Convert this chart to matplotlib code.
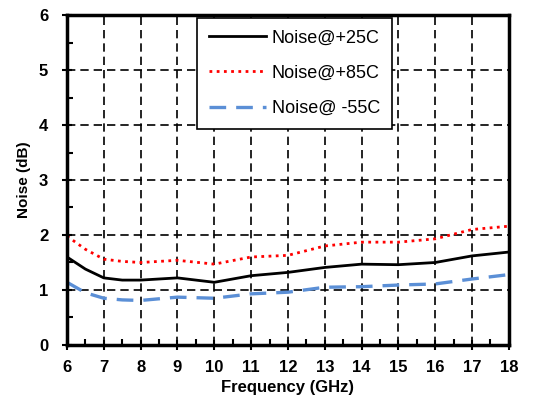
import matplotlib
matplotlib.use("Agg")
import matplotlib.pyplot as plt
from matplotlib.ticker import MultipleLocator

plt.rcParams['font.family'] = ['Liberation Sans', 'DejaVu Sans']

freq = [6, 6.5, 7, 7.5, 8, 9, 10, 11, 12, 13, 14, 15, 16, 17, 18]
noise_25 = [1.60, 1.38, 1.22, 1.18, 1.18, 1.22, 1.14, 1.26, 1.32, 1.41, 1.47, 1.46, 1.50, 1.62, 1.69]
noise_85 = [1.98, 1.74, 1.56, 1.52, 1.50, 1.54, 1.47, 1.60, 1.63, 1.80, 1.87, 1.87, 1.93, 2.10, 2.16]
noise_m55 = [1.14, 0.95, 0.85, 0.82, 0.81, 0.87, 0.85, 0.93, 0.96, 1.05, 1.06, 1.09, 1.11, 1.20, 1.28]

fig = plt.figure(figsize=(5.46, 4.09), dpi=100)
ax = fig.add_axes([0.1227, 0.1565, 0.8093, 0.8068])

ax.plot(freq, noise_25, color='black', lw=2.0, label='Noise@+25C')
ax.plot(freq, noise_85, color='red', lw=2.0, ls=(0, (1, 1.6)), label='Noise@+85C')
ax.plot(freq, noise_m55, color='#5b8fd6', lw=2.4, ls=(0, (5, 3)), label='Noise@ -55C')

ax.set_xlim(6, 18)
ax.set_ylim(0, 6)
ax.xaxis.set_major_locator(MultipleLocator(1))
ax.xaxis.set_minor_locator(MultipleLocator(0.5))
ax.yaxis.set_major_locator(MultipleLocator(1))
ax.yaxis.set_minor_locator(MultipleLocator(0.5))
ax.grid(True, which='major', color='black', ls=(0, (5, 3)), lw=1.2)
ax.tick_params(which='major', direction='inout', length=7, width=1.5, labelsize=12)
ax.tick_params(axis='x', which='major', pad=7)
ax.tick_params(axis='y', which='major', pad=10)
ax.tick_params(which='minor', direction='in', length=4, width=1.5)
for lab in ax.get_xticklabels() + ax.get_yticklabels():
    lab.set_fontweight('bold')
for s in ax.spines.values():
    s.set_linewidth(2.5)

ax.set_xlabel('Frequency (GHz)', fontsize=12, fontweight='bold', labelpad=4)
ax.set_ylabel('Noise (dB)', fontsize=11, fontweight='bold', labelpad=6)

leg = ax.legend(loc='upper left', bbox_to_anchor=(0.294, 0.991), borderaxespad=0,
                fontsize=13, handlelength=3.2, fancybox=False, framealpha=1,
                edgecolor='black', labelspacing=1.0, borderpad=0.65, handletextpad=0.3)
leg.get_frame().set_linewidth(1.2)

fig.savefig('out.png', dpi=100)
